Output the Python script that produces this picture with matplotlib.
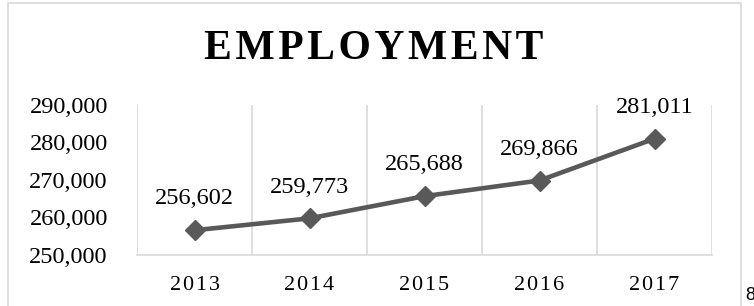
#!/usr/bin/env python3
"""Employment line chart, 2013-2017."""
import matplotlib.pyplot as plt
from matplotlib.patches import Rectangle
from matplotlib.ticker import FuncFormatter

years = ["2013", "2014", "2015", "2016", "2017"]
employment = [256602, 259773, 265688, 269866, 281011]

HAIR = "\u200a"


def spaced(s, n=1):
    return (HAIR * n).join(s)


def main() -> None:
    W, H = 754, 306
    fig = plt.figure(figsize=(W / 100, H / 100), dpi=100)
    plt.rcParams["font.family"] = ["Liberation Serif", "DejaVu Serif"]

    # outer chart border
    fig.patches.append(Rectangle((8 / W, -0.05), (741 - 8) / W, 1.05 - 3 / H,
                                 transform=fig.transFigure, fill=False,
                                 edgecolor="#d9d9d9", linewidth=1.2))

    ax = fig.add_axes([137 / W, (H - 255) / H, (712 - 137) / W, (255 - 105) / H])
    x = list(range(len(years)))
    ax.plot(x, employment, color="#595959", linewidth=3.3, marker="D",
            markersize=10, markerfacecolor="#595959", markeredgecolor="#595959")

    for xi, v in zip(x, employment):
        ax.annotate(f"{v:,}", (xi, v), xytext=(0, 22.5), textcoords="offset points",
                    ha="center", va="center", fontsize=17.5, color="black",
                    annotation_clip=False)

    ax.set_xlim(-0.5, len(years) - 0.5)
    ax.set_ylim(250000, 290000)
    ax.set_yticks([250000, 260000, 270000, 280000, 290000])
    ax.yaxis.set_major_formatter(FuncFormatter(lambda v, p: f"{int(v):,}"))
    ax.set_xticks(x)
    ax.set_xticklabels([spaced(y) for y in years])
    ax.tick_params(axis="y", length=0, pad=21, labelsize=17.5)
    ax.tick_params(axis="x", length=0, pad=15, labelsize=16)

    # vertical gridlines at category boundaries
    for b in [i - 0.5 for i in range(len(years) + 1)]:
        ax.axvline(b, color="#d9d9d9", linewidth=1.2, zorder=0)
    for side in ["top", "right", "left"]:
        ax.spines[side].set_visible(False)
    ax.spines["bottom"].set_color("#d9d9d9")
    ax.spines["bottom"].set_linewidth(1.2)

    fig.text(374 / W, 1 - 49 / H, spaced("EMPLOYMENT"), ha="center", va="center",
             fontsize=30, fontweight="bold", color="black")

    # page number peeking in at the edge
    fig.text(745 / W, 1 - 295 / H, "8", ha="left", va="center", fontsize=13,
             family="Liberation Sans", color="black")

    fig.savefig("out.png", dpi=100, facecolor="white")


if __name__ == "__main__":
    main()
